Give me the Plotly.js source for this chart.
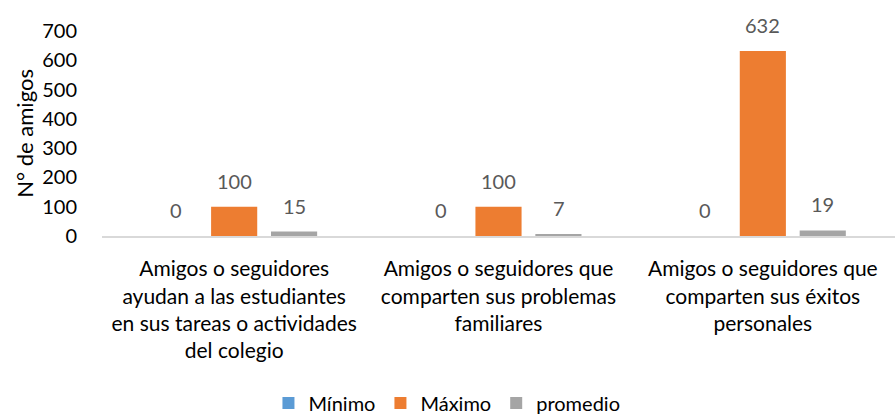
<!DOCTYPE html>
<html><head><meta charset="utf-8">
<script src="https://cdn.plot.ly/plotly-3.0.1.min.js"></script>
<style>html,body{margin:0;padding:0;background:#fff}</style>
</head><body><div id="chart" style="width:895px;height:416px"></div>
<script>
const categories = [
  "Amigos o seguidores<br>ayudan a las estudiantes<br>en sus tareas o actividades<br>del colegio",
  "Amigos o seguidores que<br>comparten sus problemas<br>familiares",
  "Amigos o seguidores que<br>comparten sus éxitos<br>personales"
];
const seriesNames = ["Mínimo", "Máximo", "promedio"];
const minimo = [0, 0, 0];
const maximo = [100, 100, 632];
const promedio = [15, 7, 19];
const colors = ["#5B9BD5", "#ED7D31", "#A5A5A5"];
const yTitle = "N° de amigos";
const allSeries = [minimo, maximo, promedio];
const FONT = "Lato, 'Liberation Sans', sans-serif";

const traces = allSeries.map((vals, i) => ({
  type: 'bar', name: seriesNames[i], x: categories, y: vals,
  marker: {color: colors[i]}, hoverinfo: 'none'
}));

const shifts = [-58, 0, 60];
const annotations = [];
allSeries.forEach((vals, i) => {
  vals.forEach((v, j) => {
    annotations.push({
      x: categories[j], y: v, xref: 'x', yref: 'y', text: String(v),
      showarrow: false, xshift: shifts[i], yanchor: 'bottom', yshift: 12,
      font: {family: FONT, size: 20, color: '#595959'}
    });
  });
});
annotations.push({
  xref: 'paper', yref: 'paper', x: -0.098, y: 0.5, text: yTitle, textangle: -90,
  showarrow: false, xanchor: 'center', yanchor: 'middle',
  font: {family: FONT, size: 22, color: '#000'}
});

const layout = {
  width: 895, height: 416,
  margin: {l: 102, r: 0, t: 31, b: 180, autoexpand: false},
  paper_bgcolor: '#fff', plot_bgcolor: '#fff',
  font: {family: FONT, size: 20, color: '#000'},
  barmode: 'group', bargap: 0.32, bargroupgap: 0.23,
  showlegend: true,
  legend: {orientation: 'h', x: 0.435, xanchor: 'center',
           y: -0.815, yanchor: 'middle', font: {family: FONT, size: 20, color: '#000'},
           tracegroupgap: 0},
  xaxis: {type: 'category', showline: true, linecolor: '#D9D9D9', linewidth: 2,
          tickangle: 0, automargin: false,
          ticks: 'outside', ticklen: 13, tickcolor: 'rgba(0,0,0,0)',
          tickfont: {family: FONT, size: 21, color: '#000'}, fixedrange: true},
  yaxis: {range: [0, 700], dtick: 100, showgrid: false, zeroline: false, showline: false,
          automargin: false,
          ticks: 'outside', ticklen: 20, tickcolor: 'rgba(0,0,0,0)',
          tickfont: {family: FONT, size: 20, color: '#000'}},
  annotations: annotations
};
Plotly.newPlot('chart', traces, layout, {staticPlot: true, displayModeBar: false});
</script></body></html>
